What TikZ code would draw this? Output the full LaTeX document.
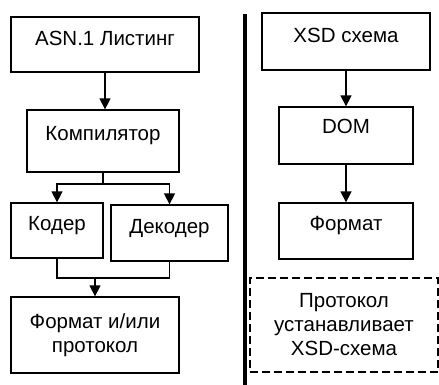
\documentclass[tikz,border=0pt]{standalone}
\usepackage{fontspec}
\setmainfont{Liberation Sans}
\usetikzlibrary{arrows.meta}
\begin{document}
\begin{tikzpicture}[x=1pt,y=-1pt,
  box/.style={draw, line width=1.3pt, inner sep=0pt, align=center,
    font=\fontsize{20.5}{24}\selectfont},
  cap/.style={text height=15pt, text depth=#1},
  conn/.style={line width=1.5pt},
  arr/.style={conn, -{Triangle[width=11pt,length=11pt]}}]
\useasboundingbox (0,0) rectangle (439,385);
% left column
\node[box, cap=13pt, minimum width=188pt, minimum height=55pt] (asn) at (105,44.5) {ASN.1 Листинг};
\node[box, cap=17pt, minimum width=152pt, minimum height=62pt] (comp) at (103,141) {Компилятор};
\node[box, cap=15pt, minimum width=92pt, minimum height=55pt] (coder) at (57,230.5) {Кодер};
\node[box, cap=14pt, minimum width=117pt, minimum height=56pt] (decoder) at (169.5,233) {Декодер};
\node[box, minimum width=168pt, minimum height=76pt] (fmt) at (95,335) {Формат и/или\\протокол};
\coordinate (split) at (103,184);
\coordinate (merge) at (95,278);
\draw[arr] (asn.south) -- (asn.south |- comp.north);
\draw[conn] (comp.south) -- (split);
\draw[arr] (split) -| (coder.north);
\draw[arr] (split) -| (decoder.north);
\draw[conn] (coder.south) |- (merge);
\draw[conn] (decoder.south) |- (merge);
\draw[arr] (merge) -- (fmt.north);
% divider
\coordinate (divtop) at (245,14);
\coordinate (divbot) at (245,385);
\draw[line width=4.5pt] (divtop) -- (divbot);
% right column
\node[box, cap=13pt, minimum width=168pt, minimum height=57pt] (xsd) at (346,41.5) {XSD схема};
\node[box, cap=19pt, minimum width=134pt, minimum height=57pt] (dom) at (346,135.5) {DOM};
\node[box, cap=16pt, minimum width=134pt, minimum height=56pt] (fmt2) at (346,231) {Формат};
\node[box, dash pattern=on 8pt off 4pt, minimum width=188pt, minimum height=94pt] (proto) at (344,325) {Протокол\\устанавливает\\XSD-схема};
\draw[arr] (xsd.south) -- (dom.north);
\draw[arr] (dom.south) -- (fmt2.north);
\end{tikzpicture}
\end{document}
